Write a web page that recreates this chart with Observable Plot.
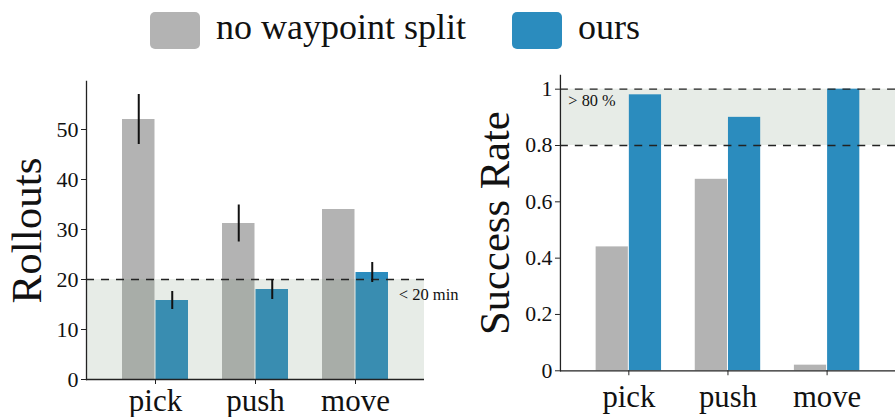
<!DOCTYPE html>
<html><head><meta charset="utf-8">
<script src="https://cdn.jsdelivr.net/npm/d3@7"></script>
<script src="https://cdn.jsdelivr.net/npm/@observablehq/plot@0.6"></script>
<style>
body{margin:0;width:895px;height:417px;overflow:hidden;position:relative;background:#fff;font-family:"Liberation Serif",serif;color:#111}
#legend{position:absolute;left:150px;top:12px;display:flex;align-items:center;font-size:36px;height:37px;z-index:2}
.sw{width:50px;height:37px;border-radius:5px;flex:none}
.lab{margin-left:16px;line-height:37px;position:relative;top:-3px}
#p1{position:absolute;left:0;top:62px}
#p2{position:absolute;left:440px;top:62px}
svg, svg g, svg text{font-family:"Liberation Serif",serif !important;font-variant:normal !important}
</style></head><body>
<div id="legend"></div>
<div id="p1"></div>
<div id="p2"></div>
<script>
const tasks = ["pick", "push", "move"];
const methods = ["no waypoint split", "ours"];
const colors = ["#b3b3b3", "#2b8cbe"];
const rolloutsBase = [52, 31.2, 34];
const rolloutsBaseErr = [5, 3.7, 0];
const rolloutsOurs = [15.8, 18, 21.4];
const rolloutsOursErr = [1.8, 2, 2];
const successBase = [0.44, 0.68, 0.02];
const successOurs = [0.98, 0.90, 1.0];
const rolloutTicks = [0, 10, 20, 30, 40, 50];
const successTicks = [0, 0.2, 0.4, 0.6, 0.8, 1];
const rolloutThreshold = 20;
const successBand = [0.8, 1.0];

const FONT = '"Liberation Serif", serif';
const INK = "#111";

// legend
const lg = document.getElementById("legend");
methods.forEach((m, i) => {
  const sw = document.createElement("div");
  sw.className = "sw"; sw.style.background = colors[i];
  if (i > 0) sw.style.marginLeft = "46px";
  const t = document.createElement("div");
  t.className = "lab"; t.textContent = m;
  lg.append(sw, t);
});

const mk = (vals, errs) => tasks.map((t, i) => ({task: t, value: vals[i], err: errs ? errs[i] : 0}));
const baseR = mk(rolloutsBase, rolloutsBaseErr);
const oursR = mk(rolloutsOurs, rolloutsOursErr);
const baseS = mk(successBase);
const oursS = mk(successOurs);

const half = 67 / 2;
const fmt = d => String(d);

// Left panel: rollouts
const p1 = Plot.plot({
  width: 470, height: 355,
  marginLeft: 86, marginRight: 46, marginTop: 19, marginBottom: 38,
  style: {fontFamily: FONT, color: INK, background: "transparent", overflow: "visible"},
  x: {domain: tasks, paddingInner: 0.337, paddingOuter: 0.342, label: null},
  y: {domain: [0, 59.6], label: null},
  marks: [
    Plot.barY(baseR, {x: "task", y: "value", fill: colors[0], insetRight: half}),
    Plot.barY(oursR, {x: "task", y: "value", fill: colors[1], insetLeft: half}),
    Plot.rectY([{y1: 0, y2: rolloutThreshold}], {y1: "y1", y2: "y2", fill: "rgb(120,147,120)", fillOpacity: 0.18}),
    Plot.ruleY([rolloutThreshold], {stroke: "#222", strokeWidth: 1.3, strokeDasharray: "8,7"}),
    Plot.ruleX(baseR.filter(d => d.err > 0), {x: "task", y1: d => d.value - d.err, y2: d => d.value + d.err, dx: -half / 2, stroke: "#111", strokeWidth: 2}),
    Plot.ruleX(oursR.filter(d => d.err > 0), {x: "task", y1: d => d.value - d.err, y2: d => d.value + d.err, dx: half / 2, stroke: "#111", strokeWidth: 2}),
    Plot.text(["< 20 min"], {frameAnchor: "right", y: rolloutThreshold, dx: 34, dy: 15, textAnchor: "end", fontSize: 16.5, fontFamily: FONT, fill: INK}),
    Plot.ruleY([0], {stroke: "#222", strokeWidth: 1.3}),
    Plot.frame({anchor: "left", stroke: "#222", strokeWidth: 1.3}),
    Plot.axisY({ticks: rolloutTicks, tickFormat: fmt, tickSize: 5, tickPadding: 3, fontSize: 22, fontFamily: FONT, label: null, stroke: "#222"}),
    Plot.axisX({tickSize: 5, tickPadding: 4, fontSize: 31, fontFamily: FONT, label: null, stroke: "#222"}),
    Plot.text(["Rollouts"], {frameAnchor: "left", rotate: -90, textAnchor: "middle", lineAnchor: "middle", dx: -59, fontSize: 43, fontFamily: FONT, fill: INK})
  ]
});
document.getElementById("p1").append(p1);

// Right panel: success rate
const p2 = Plot.plot({
  width: 459, height: 355,
  marginLeft: 121, marginRight: 0, marginTop: 13, marginBottom: 44,
  style: {fontFamily: FONT, color: INK, background: "transparent", overflow: "visible"},
  x: {domain: tasks, paddingInner: 0.337, paddingOuter: 0.342, label: null},
  y: {domain: [0, 1.049], label: null},
  marks: [
    Plot.rectY([{y1: successBand[0], y2: successBand[1]}], {y1: "y1", y2: "y2", fill: "rgb(120,147,120)", fillOpacity: 0.18}),
    Plot.barY(baseS, {x: "task", y: "value", fill: colors[0], insetRight: half}),
    Plot.barY(oursS, {x: "task", y: "value", fill: colors[1], insetLeft: half}),
    Plot.ruleY(successBand, {stroke: "#222", strokeWidth: 1.3, strokeDasharray: "8,7"}),
    Plot.text(["> 80 %"], {frameAnchor: "left", y: successBand[1], dx: 8, dy: 12, textAnchor: "start", fontSize: 16.5, fontFamily: FONT, fill: INK}),
    Plot.ruleY([0], {stroke: "#222", strokeWidth: 1.3}),
    Plot.frame({anchor: "left", stroke: "#222", strokeWidth: 1.3}),
    Plot.axisY({ticks: successTicks, tickFormat: fmt, tickSize: 5, tickPadding: 3, fontSize: 22, fontFamily: FONT, label: null, stroke: "#222"}),
    Plot.axisX({tickSize: 5, tickPadding: 10, fontSize: 31, fontFamily: FONT, label: null, stroke: "#222"}),
    Plot.text(["Success Rate"], {frameAnchor: "left", rotate: -90, textAnchor: "middle", lineAnchor: "middle", dx: -66, fontSize: 43, fontFamily: FONT, fill: INK})
  ]
});
document.getElementById("p2").append(p2);
</script>
</body></html>
